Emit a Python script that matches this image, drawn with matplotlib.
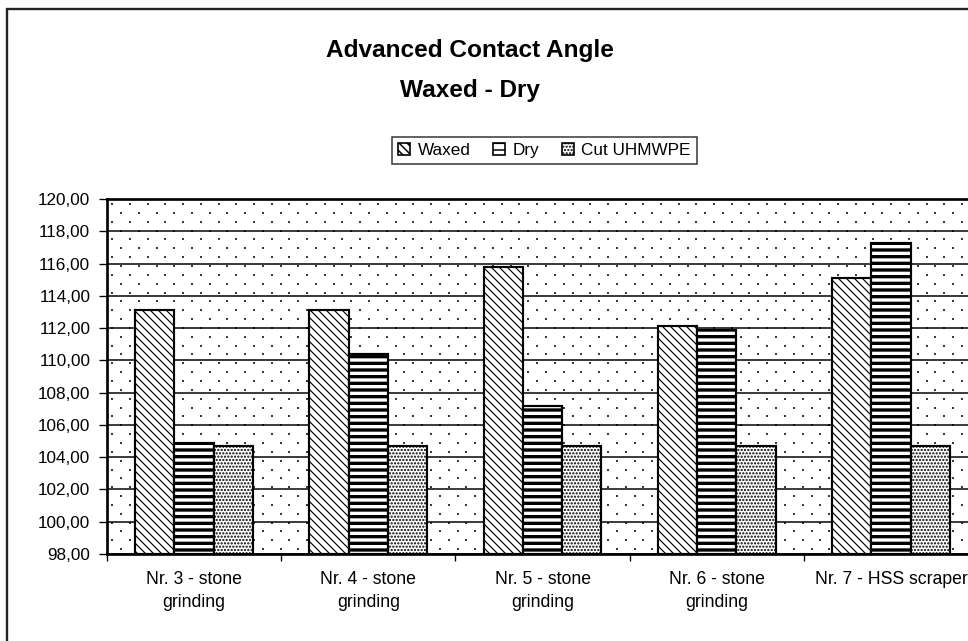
import matplotlib
matplotlib.use("Agg")
import matplotlib.pyplot as plt
import numpy as np
from matplotlib.patches import Rectangle, Patch
from matplotlib.ticker import FuncFormatter, MultipleLocator

plt.rcParams['font.family'] = ['Liberation Sans', 'DejaVu Sans']

categories = ["Nr. 3 - stone\ngrinding", "Nr. 4 - stone\ngrinding", "Nr. 5 - stone\ngrinding",
              "Nr. 6 - stone\ngrinding", "Nr. 7 - HSS scraper"]
series_names = ["Waxed", "Dry", "Cut UHMWPE"]
waxed = [113.1, 113.1, 115.8, 112.1, 115.1]
dry = [104.85, 110.4, 107.2, 111.9, 117.25]
cut = [104.7, 104.7, 104.7, 104.7, 104.7]
title_lines = ["Advanced Contact Angle", "Waxed - Dry"]
y_min, y_max, y_step = 98, 120, 2

DPI = 120
W, H = 968, 641
fig = plt.figure(figsize=(W / DPI, H / DPI), dpi=DPI)
fig.patch.set_facecolor('white')

# chart border (extends beyond the visible image on right/bottom)
fig.add_artist(Rectangle((7 / W, -0.5), 2.0, (1 - 9 / H) + 0.5, transform=fig.transFigure,
                         fill=False, edgecolor='#222222', linewidth=1.4))

ax_l, ax_r, ax_t, ax_b = 107, 978, 199, 554
ax = fig.add_axes([ax_l / W, 1 - ax_b / H, (ax_r - ax_l) / W, (ax_b - ax_t) / H])
ax.set_facecolor('white')

# background dotted pattern (plot-area fill)
aw, ah = ax_r - ax_l, ax_b - ax_t
sp = 17.7
pts = []
for j in range(int(ah / sp) + 2):
    for k in range(int(aw / sp) + 2):
        pts.append((5.3 + k * sp, 5.0 + j * sp))
        pts.append((14.2 + k * sp, 13.8 + j * sp))
pts = np.array(pts)
pts = pts[(pts[:, 0] < aw) & (pts[:, 1] < ah)]
ax.scatter(pts[:, 0] / aw, 1 - pts[:, 1] / ah, s=2.0, marker='s', color='#3a3a3a',
           linewidths=0, transform=ax.transAxes, zorder=0.3)

x = np.arange(len(categories))
w = 0.2255
styles = [
    dict(hatch='\\\\\\\\\\', hlw=0.7),
    dict(hatch='---', hlw=2.0),
    dict(hatch='......', hlw=0.9),
]
series = [waxed, dry, cut]
for i, (vals, st) in enumerate(zip(series, styles)):
    plt.rcParams['hatch.linewidth'] = st['hlw']
    bars = ax.bar(x + (i - 1) * w, np.array(vals) - y_min, bottom=y_min, width=w,
                  facecolor='white', edgecolor='black', linewidth=1.3, hatch=st['hatch'],
                  zorder=2)
    for b in bars:
        if hasattr(b, 'set_hatch_linewidth'):
            b.set_hatch_linewidth(st['hlw'])

ax.set_xlim(-0.5, len(categories) - 0.5)
ax.set_ylim(y_min, y_max)
ax.yaxis.set_major_locator(MultipleLocator(y_step))
ax.yaxis.set_major_formatter(FuncFormatter(lambda v, p: f"{v:.2f}".replace('.', ',')))
ax.grid(axis='y', color='black', linewidth=0.9)
ax.set_axisbelow(True)

ax.set_xticks(x)
ax.set_xticklabels(categories, fontsize=10.6, linespacing=1.45)
ax.tick_params(axis='x', which='major', length=0, pad=10)
ax.set_xticks(np.arange(len(categories) + 1) - 0.5, minor=True)
ax.tick_params(axis='x', which='minor', length=4, width=0.8, direction='out')
ax.tick_params(axis='y', length=5, width=0.8, direction='out', labelsize=10.3, pad=5)

for s in ['left', 'top', 'bottom', 'right']:
    ax.spines[s].set_linewidth(1.6)
    ax.spines[s].set_color('black')

fig.text(470 / W, 1 - 50 / H, title_lines[0], ha='center', va='center',
         fontsize=14.6, fontweight='bold')
fig.text(470 / W, 1 - 90 / H, title_lines[1], ha='center', va='center',
         fontsize=14.6, fontweight='bold')

handles = []
for st in styles:
    plt.rcParams['hatch.linewidth'] = st['hlw']
    handles.append(Patch(facecolor='white', edgecolor='black', hatch=st['hatch'], linewidth=1.0))
leg = fig.legend(handles, series_names, loc='upper left', bbox_to_anchor=(392 / W, 1 - 137 / H),
                 ncol=3, frameon=True, fancybox=False, shadow=False, fontsize=10.3,
                 handlelength=0.7, handleheight=0.7, handletextpad=0.45, columnspacing=1.3,
                 borderpad=0.35, borderaxespad=0)
leg.get_frame().set_edgecolor('black')
leg.get_frame().set_linewidth(0.9)

fig.savefig('out.png', dpi=DPI)
